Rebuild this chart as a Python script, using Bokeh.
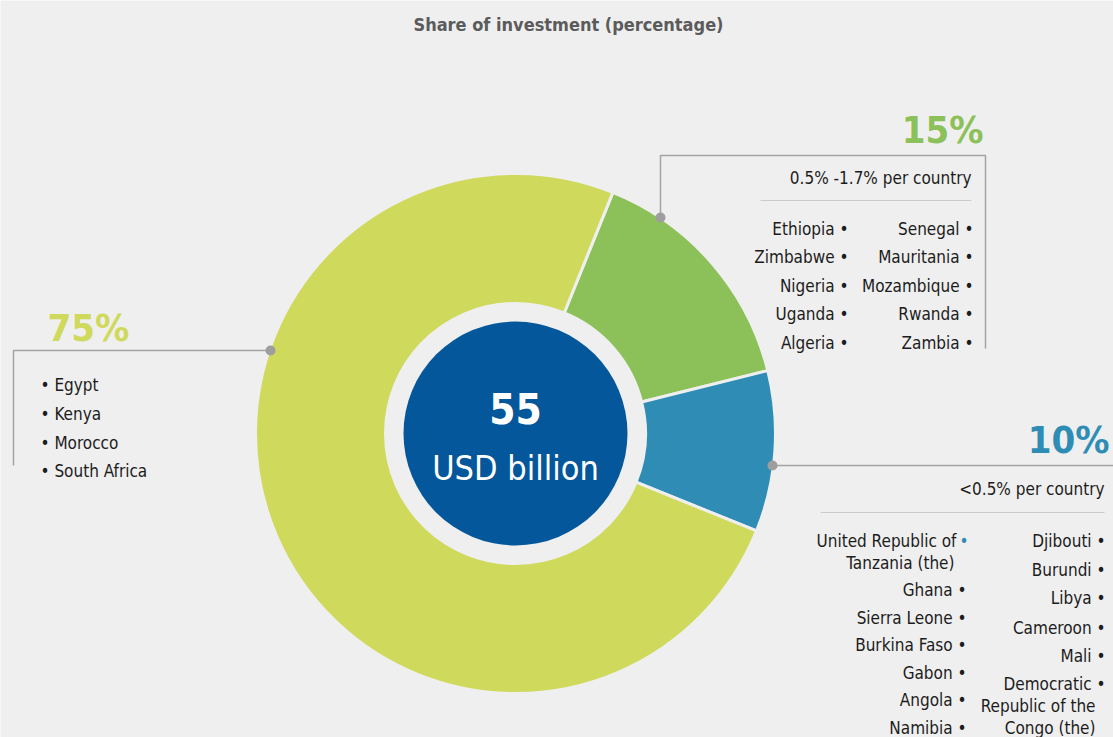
import math
from bokeh.plotting import figure
from bokeh.models import Range1d
from bokeh.embed import file_html
from bokeh.resources import INLINE
from bokeh.core.properties import value

# ---------------- data ----------------
title = "Share of investment (percentage)"
total_value = "55"
total_unit = "USD billion"
groups = ["75%", "15%", "10%"]
shares = [75, 15, 10]
group_ranges = ["", "0.5% -1.7% per country", "<0.5% per country"]
top_countries = ["Egypt", "Kenya", "Morocco", "South Africa"]
mid_col1 = ["Ethiopia", "Zimbabwe", "Nigeria", "Uganda", "Algeria"]
mid_col2 = ["Senegal", "Mauritania", "Mozambique", "Rwanda", "Zambia"]
low_col1 = ["United Republic of", "Tanzania (the)", "Ghana", "Sierra Leone",
            "Burkina Faso", "Gabon", "Angola", "Namibia"]
low_col2 = ["Djibouti", "Burundi", "Libya", "Cameroon", "Mali",
            "Democratic", "Republic of the", "Congo (the)"]

# ---------------- style ----------------
BG = "#efefef"
COLORS = {"75%": "#cfd95b", "15%": "#8cc15a", "10%": "#2f8db5"}
CENTER = "#03579a"
TXT = "#1c1c1c"
GREY = "#a3a3a3"
FONT = value("DejaVu Sans Condensed")

W, H = 1113, 737
p = figure(width=W, height=H, x_range=Range1d(0, W), y_range=Range1d(0, H),
           output_backend="svg", toolbar_location=None, min_border=0)
p.axis.visible = False
p.grid.visible = False
p.outline_line_color = None
p.background_fill_color = BG
p.border_fill_color = BG


def Y(v):
    return H - v


cx, cy = 515, Y(433)
R_OUT, R_IN, R_CORE = 260, 130, 112

# donut: clockwise, starting with the 15% group at 22 deg past twelve o'clock
order = [1, 2, 0]
start = math.radians(90 - 22)
starts, ends, cols = [], [], []
for i in order:
    sweep = math.radians(shares[i] / sum(shares) * 360)
    starts.append(start)
    ends.append(start - sweep)
    cols.append(COLORS[groups[i]])
    start -= sweep
p.annular_wedge(x=[cx] * 3, y=[cy] * 3, inner_radius=R_IN, outer_radius=R_OUT,
                start_angle=starts, end_angle=ends, direction="clock",
                fill_color=cols, line_color=BG, line_width=3)
p.circle(x=[cx], y=[cy], radius=R_CORE, fill_color=CENTER, line_color=None)

p.text(x=[cx], y=[Y(408)], text=[total_value], text_align="center", text_baseline="middle",
       text_font=FONT, text_font_style="bold", text_font_size="42px", text_color="white")
p.text(x=[cx], y=[Y(467)], text=[total_unit], text_align="center", text_baseline="middle",
       text_font=FONT, text_font_size="34px", text_color="white")

# title
p.text(x=[568], y=[Y(24)], text=[title], text_align="center", text_baseline="middle",
       text_font=FONT, text_font_style="bold", text_font_size="18px", text_color="#5b5b5b")

# ---------- leader lines ----------
p.line(x=[660, 660, 985, 985], y=[Y(217), Y(155), Y(155), Y(348)], line_color=GREY, line_width=1.5)
p.line(x=[772, 1113], y=[Y(465), Y(465)], line_color=GREY, line_width=1.5)
p.line(x=[270, 13, 13], y=[Y(350), Y(350), Y(465)], line_color=GREY, line_width=1.5)
p.scatter(x=[660, 772, 270], y=[Y(217), Y(465), Y(350)], size=10, fill_color="#9e9e9e", line_color=None)

# separators
p.line(x=[760, 971], y=[Y(200), Y(200)], line_color="#cbcbcb", line_width=1)
p.line(x=[820, 1104], y=[Y(512), Y(512)], line_color="#cbcbcb", line_width=1)

# percentages
p.text(x=[47], y=[Y(327)], text=[groups[0]], text_align="left", text_baseline="middle",
       text_font=FONT, text_font_style="bold", text_font_size="38px", text_color=COLORS[groups[0]])
p.text(x=[983], y=[Y(129)], text=[groups[1]], text_align="right", text_baseline="middle",
       text_font=FONT, text_font_style="bold", text_font_size="38px", text_color=COLORS[groups[1]])
p.text(x=[1109], y=[Y(439)], text=[groups[2]], text_align="right", text_baseline="middle",
       text_font=FONT, text_font_style="bold", text_font_size="38px", text_color=COLORS[groups[2]])

# ranges
p.text(x=[971], y=[Y(177)], text=[group_ranges[1]], text_align="right", text_baseline="middle",
       text_font=FONT, text_font_size="17px", text_color=TXT)
p.text(x=[1104], y=[Y(488)], text=[group_ranges[2]], text_align="right", text_baseline="middle",
       text_font=FONT, text_font_size="17px", text_color=TXT)

FS = "17px"


def col(names, x, ys, align, bullet_side):
    txt = []
    for n in names:
        if bullet_side == "left":
            txt.append("\u2022 " + n)
        elif bullet_side == "right":
            txt.append(n + " \u2022")
        else:
            txt.append(n)
    p.text(x=[x] * len(names), y=[Y(v) for v in ys], text=txt, text_align=align,
           text_baseline="middle", text_font=FONT, text_font_size=FS, text_color=TXT)


# 75% list
col(top_countries, 40, [384, 413, 442, 470], "left", "left")
# 15% lists
mid_ys = [228, 256, 285, 313, 342]
col(mid_col1, 848, mid_ys, "right", "right")
col(mid_col2, 973, mid_ys, "right", "right")
# 10% lists
col(low_col1[:1], 956, [540], "right", None)
p.text(x=[959], y=[Y(540)], text=["\u2022"], text_align="left", text_baseline="middle",
       text_font=FONT, text_font_size=FS, text_color=COLORS["10%"])
col(low_col1[1:2], 954, [562], "right", None)
col(low_col1[2:], 966, [589, 617, 644, 672, 699, 727], "right", "right")
col(low_col2[:6], 1105, [540, 569, 597, 627, 655, 683], "right", "right")
col(low_col2[6:], 1095, [705, 727], "right", None)

html = file_html(p, INLINE)
html = html.replace("<body>", '<body style="background:#efefef;margin:0">', 1)
open("out.html", "w").write(html)
